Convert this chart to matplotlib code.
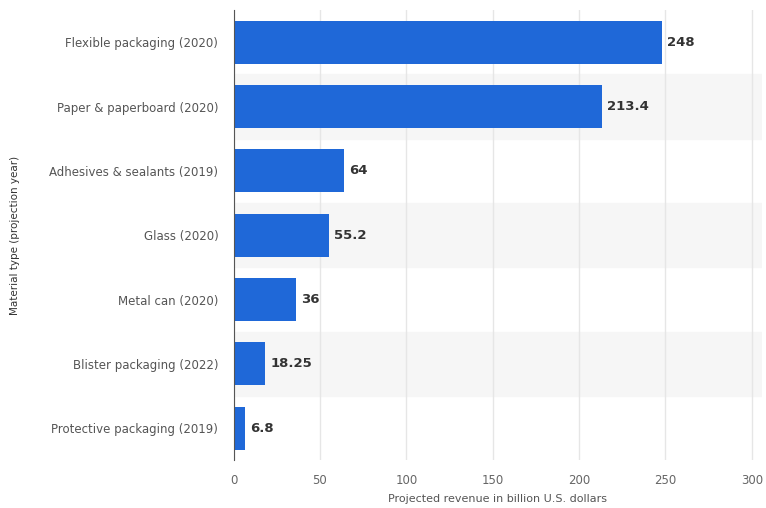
import matplotlib.pyplot as plt

categories = ["Flexible packaging (2020)", "Paper & paperboard (2020)",
              "Adhesives & sealants (2019)", "Glass (2020)", "Metal can (2020)",
              "Blister packaging (2022)", "Protective packaging (2019)"]
values = [248, 213.4, 64, 55.2, 36, 18.25, 6.8]
value_labels = ["248", "213.4", "64", "55.2", "36", "18.25", "6.8"]
xticks = [0, 50, 100, 150, 200, 250, 300]

fig = plt.figure(figsize=(7.66, 5.08), dpi=100)
ax = fig.add_axes([0.305, 0.094, 0.69, 0.886])

y = list(range(len(categories)))
# light banding on every second row
for i in y:
    if i % 2 == 1:
        ax.axhspan(i - 0.5, i + 0.5, color="#f6f6f6", zorder=0)

ax.barh(y, values, height=0.67, color="#1f68d8", zorder=3)
for i, v in enumerate(values):
    ax.text(v + 3, i, value_labels[i], va="center", ha="left",
            fontsize=9.5, fontweight="bold", color="#333333", zorder=4)

ax.set_xlim(0, 306)
ax.set_ylim(len(categories) - 0.5, -0.5)
ax.set_yticks(y)
ax.set_yticklabels(categories, fontsize=8.5, color="#555555")
ax.set_xticks(xticks)
ax.set_xticklabels([str(t) for t in xticks], fontsize=8.5, color="#666666")
ax.tick_params(axis="both", length=0, pad=10)
ax.tick_params(axis="y", pad=11)
ax.grid(axis="x", color="#e6e6e6", linewidth=1, zorder=1)
for s in ["top", "right", "bottom"]:
    ax.spines[s].set_visible(False)
ax.spines["left"].set_color("#555555")
ax.spines["left"].set_zorder(5)

ax.set_xlabel("Projected revenue in billion U.S. dollars", fontsize=8, color="#555555", labelpad=5)
ax.set_ylabel("Material type (projection year)", fontsize=7.5, color="#333333")
ax.yaxis.set_label_coords(-0.405, 0.5)

fig.savefig("out.png", dpi=100)
